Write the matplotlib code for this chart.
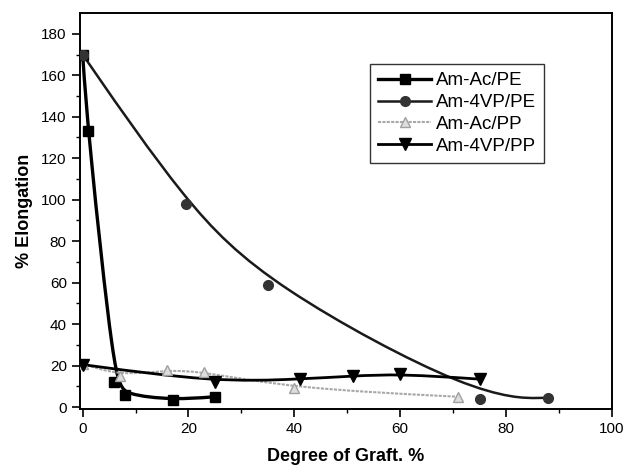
import matplotlib
matplotlib.use('Agg')
import matplotlib.pyplot as plt
from matplotlib.path import Path
from matplotlib.patches import PathPatch
from matplotlib.lines import Line2D
import numpy as np

plt.rcParams['font.family'] = ['Liberation Sans', 'DejaVu Sans']

# data
labels = ["Am-Ac/PE", "Am-4VP/PE", "Am-Ac/PP", "Am-4VP/PP"]

acpe_x = [0, 1, 6, 8, 17, 25]
acpe_y = [170, 133, 12, 6, 3.5, 5]

vppe_x = [0, 19.5, 35, 75, 88]
vppe_y = [170, 98, 59, 4, 4.5]

acpp_x = [0, 7, 16, 23, 40, 71]
acpp_y = [21, 15, 18, 17, 9, 5]

vppp_x = [0, 25, 41, 51, 60, 75]
vppp_y = [20.5, 12, 13.5, 15, 16, 13.5]


def bspline_path(xs, ys):
    # Origin style B-spline: data points are control points of a clamped
    # uniform cubic B-spline, turned into cubic Bezier segments for matplotlib
    p = np.column_stack([xs, ys]).astype(float)
    q = np.vstack([p[0], p[0], p, p[-1], p[-1]])
    verts = []
    codes = []
    for i in range(len(q) - 3):
        q0, q1, q2, q3 = q[i], q[i + 1], q[i + 2], q[i + 3]
        b0 = (q0 + 4 * q1 + q2) / 6
        b1 = (2 * q1 + q2) / 3
        b2 = (q1 + 2 * q2) / 3
        b3 = (q1 + 4 * q2 + q3) / 6
        if i == 0:
            verts.append(b0)
            codes.append(Path.MOVETO)
        verts += [b1, b2, b3]
        codes += [Path.CURVE4] * 3
    return Path(verts, codes)


fig, ax = plt.subplots(figsize=(6.25, 4.65), dpi=100)
fig.subplots_adjust(left=0.128, right=0.979, bottom=0.12, top=0.972)

styles = [
    (acpe_x, acpe_y, dict(color='black', lw=2.4), dict(marker='s', ms=7, mfc='black', mec='black')),
    (vppe_x, vppe_y, dict(color='#1a1a1a', lw=1.8), dict(marker='o', ms=7, mfc='#333333', mec='#333333')),
    (acpp_x, acpp_y, dict(color='#a8a8a8', lw=1.5, linestyle=(0, (1.5, 0.6))), dict(marker='^', ms=7, mfc='#dddddd', mec='#a0a0a0')),
    (vppp_x, vppp_y, dict(color='black', lw=2.0), dict(marker='v', ms=8, mfc='black', mec='black')),
]

handles = []
for (xs, ys, lkw, mkw), lab in zip(styles, labels):
    patch = PathPatch(bspline_path(xs, ys), facecolor='none', edgecolor=lkw['color'],
                      lw=lkw['lw'], linestyle=lkw.get('linestyle', '-'), zorder=3)
    ax.add_patch(patch)
    ax.plot(xs, ys, linestyle='none', zorder=4, **mkw)
    handles.append(Line2D([], [], color=lkw['color'], lw=lkw['lw'],
                          linestyle=lkw.get('linestyle', '-'), **mkw))

ax.set_xlim(-0.5, 100)
ax.set_ylim(-1, 190)
ax.set_xticks([0, 20, 40, 60, 80, 100])
ax.set_xticks(np.arange(10, 100, 20), minor=True)
ax.set_yticks(np.arange(0, 181, 20))
ax.set_yticks(np.arange(10, 190, 20), minor=True)
ax.tick_params(which='major', direction='out', length=6, width=1.2, labelsize=11, colors='black')
ax.tick_params(which='minor', direction='out', length=3, width=1.0)
for s in ax.spines.values():
    s.set_linewidth(1.4)

ax.set_xlabel('Degree of Graft. %', fontsize=13, fontweight='bold', labelpad=8)
ax.set_ylabel('% Elongation', fontsize=13, fontweight='bold', labelpad=6)

leg = ax.legend(handles, labels, loc='upper left', bbox_to_anchor=(0.545, 0.872),
                borderaxespad=0, fontsize=13.5, handlelength=2.8, handletextpad=0.25,
                labelspacing=0.25, borderpad=0.45, frameon=True, fancybox=False,
                edgecolor='black')
leg.get_frame().set_linewidth(1.0)

plt.savefig('out.png', dpi=100)
